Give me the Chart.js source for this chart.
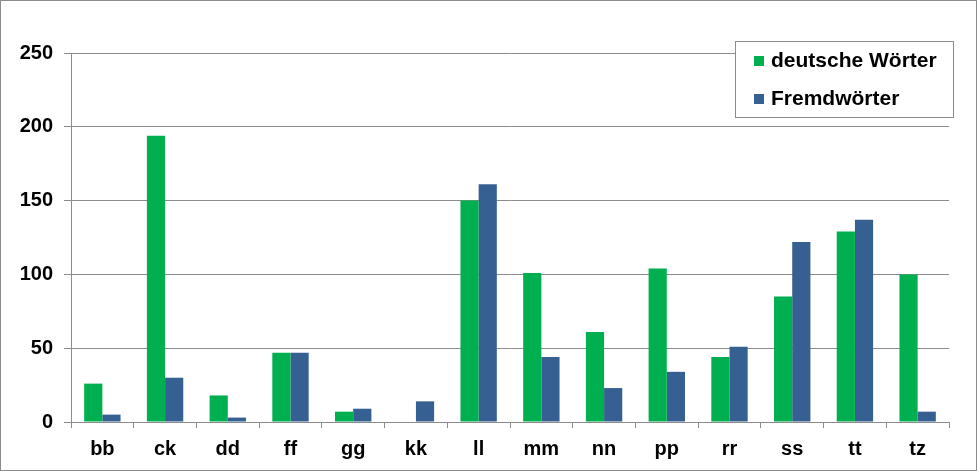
<!DOCTYPE html>
<html>
<head>
<meta charset="utf-8">
<script src="https://cdn.jsdelivr.net/npm/chart.js@4"></script>
<style>
  body { margin: 0; background: #fff; }
  #wrap { width: 977px; height: 471px; position: relative; }
</style>
</head>
<body>
<div id="wrap"><canvas id="chart" width="977" height="471"></canvas></div>
<script>
// Daten
const categories = ['bb', 'ck', 'dd', 'ff', 'gg', 'kk', 'll', 'mm', 'nn', 'pp', 'rr', 'ss', 'tt', 'tz'];
const deutscheWoerter = [26, 194, 18, 47, 7, 0, 150, 101, 61, 104, 44, 85, 129, 100];
const fremdwoerter = [5, 30, 3, 47, 9, 14, 161, 44, 23, 34, 51, 122, 137, 7];
const yTicks = [0, 50, 100, 150, 200, 250];

const GREEN = '#00b050';
const BLUE = '#376092';
const GRID = '#8c8c8c';
const FONT = 'Liberation Sans, Arial, sans-serif';

// Rahmen und Legende selbst zeichnen
const frameAndLegend = {
    id: 'frameAndLegend',
    afterDraw(chart) {
        const ctx = chart.ctx;
        ctx.save();
        ctx.strokeStyle = GRID;
        ctx.lineWidth = 1;
        ctx.strokeRect(0.5, 0.5, chart.width - 1, chart.height - 1);

        // Legende
        const x = 735.5, y = 41.5, w = 218, h = 76;
        ctx.fillStyle = '#fff';
        ctx.fillRect(x, y, w, h);
        ctx.strokeRect(x, y, w, h);
        ctx.font = 'bold 21px ' + FONT;
        ctx.textBaseline = 'middle';
        chart.data.datasets.forEach((ds, i) => {
            const ly = 61 + i * 38;
            ctx.fillStyle = ds.backgroundColor;
            ctx.fillRect(754, ly - 5, 10, 10);
            ctx.fillStyle = '#000';
            ctx.fillText(ds.label, 771, ly);
        });
        ctx.restore();
    }
};

new Chart(document.getElementById('chart'), {
    type: 'bar',
    data: {
        labels: categories,
        datasets: [
            { label: 'deutsche Wörter', data: deutscheWoerter, backgroundColor: GREEN },
            { label: 'Fremdwörter', data: fremdwoerter, backgroundColor: BLUE }
        ]
    },
    options: {
        responsive: false,
        animation: false,
        devicePixelRatio: 1,
        layout: { padding: { top: 53, right: 28, left: 0, bottom: 0 } },
        datasets: { bar: { categoryPercentage: 0.58, barPercentage: 1 } },
        plugins: { legend: { display: false }, tooltip: { enabled: false } },
        scales: {
            x: {
                grid: { drawOnChartArea: false, color: GRID, tickLength: 6, offset: true },
                border: { color: GRID },
                ticks: { color: '#000', font: { family: FONT, size: 20, weight: 'bold' }, padding: 9 },
                afterFit: s => { s.height = 49; }
            },
            y: {
                min: 0,
                max: 250,
                afterBuildTicks: s => { s.ticks = yTicks.map(v => ({ value: v })); },
                grid: { color: GRID, tickLength: 7 },
                border: { color: GRID },
                ticks: { color: '#000', font: { family: FONT, size: 20, weight: 'bold' }, padding: 11 },
                afterFit: s => { s.width = 71; }
            }
        }
    },
    plugins: [frameAndLegend]
});
</script>
</body>
</html>
